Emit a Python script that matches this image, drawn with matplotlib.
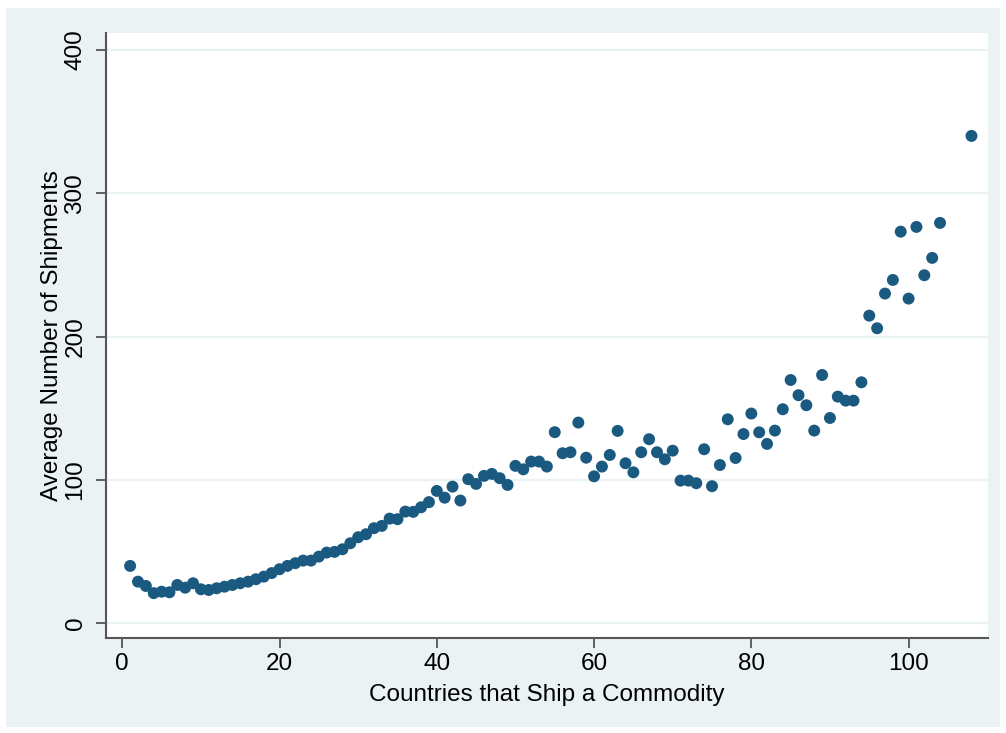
import matplotlib
matplotlib.use('Agg')
import matplotlib.pyplot as plt
from matplotlib.patches import Rectangle

plt.rcParams['font.family'] = ['Liberation Sans', 'DejaVu Sans']

# data
countries = list(range(1, 105)) + [108]
avg_shipments = [
    40, 29, 26, 21, 22, 21.6, 26.7, 24.8, 27.9, 23.7,
    23.2, 24.4, 25.5, 26.7, 27.9, 29, 30.7, 32.5, 35, 37.7,
    40, 41.9, 43.7, 43.7, 46.5, 49.3, 49.8, 51.6, 55.8, 60,
    62.1, 66.3, 67.9, 73, 72.6, 77.9, 77.7, 80.9, 84.5, 92.3,
    87.6, 95.3, 85.6, 100.5, 97.2, 102.8, 104.2, 101.2, 96.5, 109.8,
    107.4, 112.8, 112.8, 109.3, 133.3, 118.6, 119.3, 140, 115.5, 102.5,
    109.3, 117.4, 134.2, 111.6, 105.3, 119.3, 128.4, 119.3, 114.4, 120.4,
    99.5, 99.5, 97.7, 121.4, 95.6, 110.4, 142.3, 115.3, 132, 146.3,
    133.2, 125.1, 134.4, 149.3, 169.7, 159.1, 152.1, 134.4, 173.2, 143.2,
    158.1, 155.3, 155.3, 168.1, 214.6, 205.8, 230, 239.5, 273.2, 226.5,
    276.5, 242.8, 254.9, 279.3, 340,
]
x_ticks = [0, 20, 40, 60, 80, 100]
y_ticks = [0, 100, 200, 300, 400]

BG = '#EAF2F3'
DOT = '#1b5a80'
AXC = '#555555'

fig = plt.figure(figsize=(10.06, 7.33), dpi=100, facecolor='white')
# graph region (light band inside a thin white border)
fig.add_artist(Rectangle((6 / 1006, 6 / 733), 994 / 1006, 719 / 733,
                         transform=fig.transFigure, facecolor=BG,
                         edgecolor='none', zorder=-10))

ax = fig.add_axes([106 / 1006, 1 - 638 / 733, 882 / 1006, 605 / 733])
ax.set_zorder(1)
ax.set_facecolor('white')

ax.scatter(countries, avg_shipments, s=74, color=DOT, edgecolors='none', zorder=3)

ax.set_xlim(-2.07, 110.1)
ax.set_ylim(-10.3, 411.8)
ax.set_xticks(x_ticks)
ax.set_yticks(y_ticks)
ax.grid(axis='y', color=BG, linewidth=1.6)
ax.set_axisbelow(True)

for side in ['top', 'right']:
    ax.spines[side].set_visible(False)
for side in ['left', 'bottom']:
    ax.spines[side].set_color(AXC)
    ax.spines[side].set_linewidth(1.5)

ax.tick_params(axis='both', direction='out', length=7, width=1.3, color=AXC,
               labelsize=17.5)
ax.tick_params(axis='x', pad=4)
ax.tick_params(axis='y', pad=7)
for lab in ax.get_yticklabels():
    lab.set_rotation(90)
    lab.set_va('center')

ax.set_xlabel('Countries that Ship a Commodity', fontsize=17.5, labelpad=6)
ax.set_ylabel('Average Number of Shipments', fontsize=17.5, labelpad=1)

fig.savefig('out.png', dpi=100, facecolor=fig.get_facecolor())
